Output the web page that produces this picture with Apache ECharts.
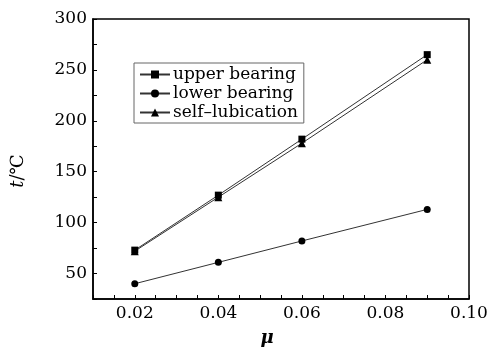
<!DOCTYPE html>
<html>
<head>
<meta charset="utf-8">
<script src="https://cdn.jsdelivr.net/npm/echarts@6/dist/echarts.min.js"></script>
<style>
  html, body { margin: 0; padding: 0; background: #fff; }
  #chart { width: 496px; height: 354px; }
</style>
</head>
<body>
<div id="chart"></div>
<script>
// Friction coefficient values (x) and temperatures (°C) per bearing case
var mu = [0.02, 0.04, 0.06, 0.09];
var upperBearing = [73, 127, 182, 265];
var lowerBearing = [40, 61, 82, 113];
var selfLubrication = [72, 125, 178, 260];
var seriesNames = ['upper bearing', 'lower bearing', 'self–lubication'];

function pairs(ys) {
  return mu.map(function (x, i) { return [x, ys[i]]; });
}

var serif = 'DejaVu Serif';
var lineStyle = { color: '#333', width: 1 };

function makeSeries(name, ys, symbol, size) {
  return {
    name: name,
    type: 'line',
    data: pairs(ys),
    symbol: symbol,
    symbolSize: size,
    lineStyle: lineStyle,
    itemStyle: { color: '#000' },
    animation: false
  };
}

var chart = echarts.init(document.getElementById('chart'));
chart.setOption({
  backgroundColor: '#fff',
  animation: false,
  grid: {
    left: 93, right: 27, top: 19, bottom: 55,
    show: true, borderColor: '#000', borderWidth: 1.5
  },
  legend: {
    orient: 'vertical',
    left: 134, top: 63,
    data: seriesNames,
    itemWidth: 30, itemHeight: 10, itemGap: 2,
    padding: [3, 6, 2, 5],
    borderColor: '#666', borderWidth: 1,
    backgroundColor: '#fff',
    textStyle: { fontFamily: serif, fontSize: 17, color: '#000', padding: [0, 0, 0, -2] }
  },
  xAxis: {
    type: 'value',
    min: 0.01, max: 0.10, interval: 0.005,
    name: 'μ',
    nameLocation: 'middle',
    nameGap: 30,
    nameTextStyle: {
      fontFamily: serif, fontSize: 18, fontWeight: 'bold', fontStyle: 'italic',
      color: '#000', padding: [0, 28, 0, 0]
    },
    axisLine: { show: true, lineStyle: { color: '#000', width: 1.5 } },
    axisTick: { show: true, inside: true, length: 4, lineStyle: { color: '#000', width: 1 } },
    axisLabel: {
      fontFamily: serif, fontSize: 17, color: '#000', margin: 6,
      formatter: function (v) {
        var m = Math.round(v * 1000);
        return (m % 20 === 0) ? (m / 1000).toFixed(2) : '';
      }
    },
    splitLine: { show: false }
  },
  yAxis: {
    type: 'value',
    min: 25, max: 300, interval: 25,
    name: '{i|t}/℃',
    nameLocation: 'middle',
    nameGap: 66,
    nameRotate: 90,
    nameTextStyle: {
      fontFamily: serif, fontSize: 18, color: '#000', padding: [0, 0, 0, -24],
      rich: { i: { fontFamily: serif, fontSize: 18, fontStyle: 'italic', color: '#000' } }
    },
    axisLine: { show: true, lineStyle: { color: '#000', width: 1.5 } },
    axisTick: { show: true, inside: true, length: 4, lineStyle: { color: '#000', width: 1 } },
    axisLabel: {
      fontFamily: serif, fontSize: 17, color: '#000', margin: 6,
      formatter: function (v) { return (Math.round(v) % 50 === 0) ? String(Math.round(v)) : ''; }
    },
    splitLine: { show: false }
  },
  series: [
    makeSeries(seriesNames[0], upperBearing, 'rect', 7),
    makeSeries(seriesNames[1], lowerBearing, 'circle', 7),
    makeSeries(seriesNames[2], selfLubrication, 'triangle', 8)
  ]
});
</script>
</body>
</html>
